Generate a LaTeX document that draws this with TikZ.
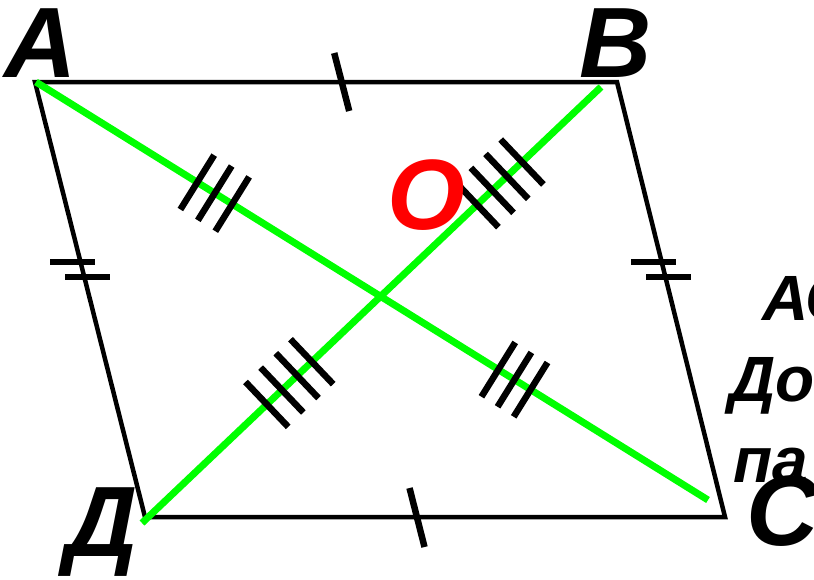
\documentclass[tikz,border=0pt]{standalone}
\usepackage{fontspec}
\setmainfont{Liberation Sans}
\usetikzlibrary{calc}
\definecolor{diaggreen}{RGB}{0,255,0}
\definecolor{ptred}{RGB}{255,0,0}

\begin{document}
\begin{tikzpicture}[x=1pt, y=-1pt,
  side/.style={line width=4.5pt, line join=miter},
  diag/.style={line width=7pt, draw=diaggreen},
  tk/.style={line width=6.5pt},
  lbl/.style={font=\fontsize{100}{100}\selectfont\bfseries\itshape, inner sep=0pt, anchor=base},
  txt/.style={font=\fontsize{64}{64}\selectfont\bfseries\itshape, inner sep=0pt, anchor=base west}
]
\useasboundingbox (0,0) rectangle (814,579);
\clip (0,0) rectangle (814,579);

% vertices of the parallelogram
\coordinate (A) at (35,82);
\coordinate (B) at (617,82);
\coordinate (C) at (725,517);
\coordinate (D) at (145,517);
% ends of the diagonals
\coordinate (a1) at (36,82);
\coordinate (c1) at (708,500);
\coordinate (d1) at (142,523);
\coordinate (b1) at (601,87);

\draw[side] (A) -- (B) -- (C) -- (D) -- cycle;
\draw[diag] (a1) -- (c1);
\draw[diag] (d1) -- (b1);

% equal halves of the diagonals
\foreach \p in {0.24,0.266,0.292,0.688,0.712,0.736}
  \draw[tk] ($(a1)!\p!(c1)!32pt!90:(c1)$) -- ($(a1)!\p!(c1)!32pt!-90:(c1)$);
\foreach \p in {0.272,0.305,0.338,0.370,0.730,0.763,0.795,0.828}
  \draw[tk] ($(d1)!\p!(b1)!31pt!90:(b1)$) -- ($(d1)!\p!(b1)!31pt!-90:(b1)$);

% equal opposite sides
\coordinate (mab) at ($(A)!0.527!(B)$);
\coordinate (mdc) at ($(D)!0.469!(C)$);
\draw[tk] ($(mab)+(-7.5,-29)$) -- ($(mab)+(7.5,29)$);
\draw[tk] ($(mdc)+(-7.5,-29)$) -- ($(mdc)+(7.5,30)$);
\foreach \s/\e in {A/D,B/C}{
  \coordinate (m) at ($(\s)!0.432!(\e)$);
  \draw[tk] ($(m)+(-32.5,-8)$) -- ($(m)+(12.5,-8)$);
  \draw[tk] ($(m)+(-17.5,7)$) -- ($(m)+(27.5,7)$);
}

% text at the right edge
\node[txt] (t1) at (762,320) {АС};
\node[txt] (t2) at (729,401) {До};
\node[txt] (t3) at (733,482) {па};

% labels
\node[lbl] (lA) at (41,77) {А};
\node[lbl] (lB) at (616,77) {В};
\node[lbl] (lD) at (102,556) {Д};
\node[lbl] (lC) at (783,545) {С};
\node[lbl, text=ptred] (lO) at (426,229) {О};
\end{tikzpicture}
\end{document}
